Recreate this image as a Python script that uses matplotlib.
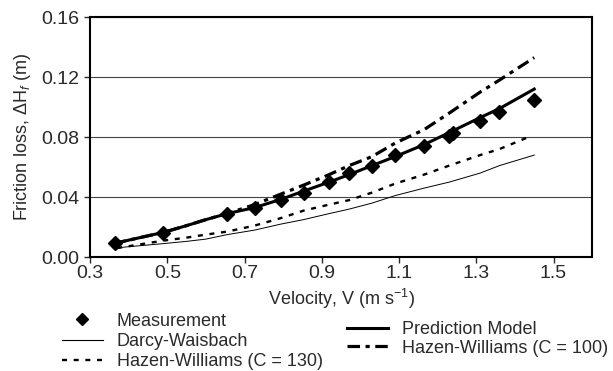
import matplotlib
matplotlib.use("Agg")
import matplotlib.pyplot as plt
from matplotlib.lines import Line2D

plt.rcParams['font.family'] = ['Liberation Sans', 'DejaVu Sans']
plt.rcParams['mathtext.fontset'] = 'custom'
plt.rcParams['mathtext.rm'] = 'Liberation Sans'
plt.rcParams['mathtext.it'] = 'Liberation Sans:italic'
plt.rcParams['lines.scale_dashes'] = False

# measured points
v_meas = [0.365, 0.49, 0.655, 0.726, 0.794, 0.853, 0.919, 0.971, 1.03, 1.09,
          1.165, 1.23, 1.24, 1.31, 1.36, 1.45]
hf_meas = [0.0095, 0.016, 0.0287, 0.0325, 0.038, 0.043, 0.050, 0.056, 0.061,
           0.068, 0.074, 0.081, 0.083, 0.091, 0.097, 0.105]

# velocities for the model curves
v_line = [0.36, 0.49, 0.55, 0.60, 0.655, 0.726, 0.794, 0.853, 0.919, 0.971,
          1.03, 1.09, 1.165, 1.23, 1.31, 1.36, 1.45]
hf_pred = [0.009, 0.0165, 0.021, 0.025, 0.029, 0.033, 0.0385, 0.044, 0.050,
           0.055, 0.061, 0.067, 0.075, 0.083, 0.093, 0.099, 0.112]
hf_hw100 = [0.009, 0.0165, 0.021, 0.025, 0.029, 0.035, 0.042, 0.048, 0.055,
            0.061, 0.067, 0.076, 0.085, 0.096, 0.110, 0.118, 0.133]
hf_darcy = [0.006, 0.009, 0.0105, 0.012, 0.015, 0.018, 0.022, 0.025, 0.029,
            0.032, 0.036, 0.041, 0.046, 0.050, 0.056, 0.061, 0.068]

v_hw130 = [0.37, 0.49, 0.55, 0.60, 0.655, 0.726, 0.794, 0.853, 0.919, 0.971,
           1.03, 1.09, 1.165, 1.23, 1.31, 1.36, 1.435]
hf_hw130 = [0.006, 0.011, 0.013, 0.015, 0.017, 0.021, 0.026, 0.031, 0.035,
            0.038, 0.043, 0.049, 0.055, 0.061, 0.068, 0.072, 0.080]

txt = '#2a2a2a'

fig = plt.figure(figsize=(6.13, 3.71), dpi=100)
ax = fig.add_axes([0.147, 0.307, 0.819, 0.647])

ax.plot(v_line, hf_darcy, color='black', lw=0.7)
ax.plot(v_hw130, hf_hw130, color='black', lw=1.7, dashes=(3.6, 4.8))
ax.plot(v_line, hf_hw100, color='black', lw=2.3, dashes=(9, 4, 3, 4))
ax.plot(v_line, hf_pred, color='black', lw=2.2)
ax.plot(v_meas, hf_meas, linestyle='none', marker='D', color='black', markersize=7)

ax.set_xlim(0.3, 1.6)
ax.set_ylim(0, 0.16)
ax.set_xticks([0.3, 0.5, 0.7, 0.9, 1.1, 1.3, 1.5])
ax.set_yticks([0.0, 0.04, 0.08, 0.12, 0.16])
ax.set_yticklabels(['0.00', '0.04', '0.08', '0.12', '0.16'])
ax.yaxis.grid(True, color='#444444', lw=0.8)
ax.set_axisbelow(True)
for s in ax.spines.values():
    s.set_linewidth(1.5)
ax.tick_params(labelsize=14, length=4, width=1, colors=txt)
ax.tick_params(axis='y', pad=3.5)
ax.tick_params(axis='x', pad=1.5)
ax.set_xlabel('Velocity, V (m s$^{-1}$)', fontsize=13, color=txt, labelpad=4)
ax.set_ylabel('Friction loss, ΔH$_f$ (m)', fontsize=13, color=txt, labelpad=6)

h_left = [Line2D([], [], linestyle='none', marker='D', color='black', markersize=6),
          Line2D([], [], color='black', lw=0.8),
          Line2D([], [], color='black', lw=1.7, dashes=(3.6, 4.8))]
l_left = ['Measurement', 'Darcy-Waisbach', 'Hazen-Williams (C = 130)']
h_right = [Line2D([], [], color='black', lw=2.2),
           Line2D([], [], color='black', lw=2.3, dashes=(9, 4, 3, 4))]
l_right = ['Prediction Model', 'Hazen-Williams (C = 100)']

leg_kw = dict(frameon=False, fontsize=13, handlelength=2.27, handletextpad=0.78,
              borderaxespad=0, borderpad=0, labelcolor=txt)
fig.legend(h_left, l_left, loc='upper left', bbox_to_anchor=(0.101, 0.157),
           bbox_transform=fig.transFigure, labelspacing=0.17, **leg_kw)
fig.legend(h_right, l_right, loc='upper left', bbox_to_anchor=(0.566, 0.135),
           bbox_transform=fig.transFigure, labelspacing=0.1, **leg_kw)

fig.savefig('out.png', dpi=100)
